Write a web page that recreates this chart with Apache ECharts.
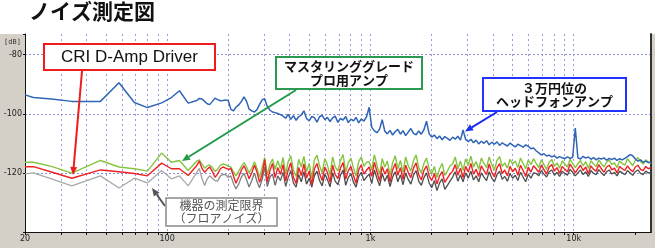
<!DOCTYPE html>
<html><head><meta charset="utf-8">
<script src="https://cdn.jsdelivr.net/npm/echarts@6/dist/echarts.min.js"></script>
<style>html,body{margin:0;padding:0;background:#fff}#c{width:655px;height:248px}</style>
</head><body><div id="c"></div>
<script>
// Frequencies (Hz)
const freq = [
20,22,27,34,47,58,69,80,94,105,115,127,
140,144,148.5,153,157.5,162,167,172,177,183,
188,194,200,206,212,218,225,232,239,246,
253,261,269,277,285,294,302,311,321,330,
340,350,361,372,383,394,406,418,431,444,
457,471,485,500,515,530,546,562,579,597,
614,633,652,671,692,712,734,756,778,802,
826,850,876,902,929,957,986,1015,1046,1077,
1110,1143,1177,1212,1249,1286,1325,1364,1405,1447,
1491,1535,1581,1629,1678,1728,1780,1833,1888,1945,
2003,2063,2125,2189,2255,2322,2392,2464,2538,2614,
2692,2773,2856,2942,3030,3121,3215,3311,3410,3513,
3618,3727,3838,3954,4072,4194,4320,4450,4583,4721,
4862,5008,5159,5313,5473,5637,5806,5980,6159,6344,
6535,6731,6933,7141,7355,7575,7803,8037,8278,8526,
8782,9046,9317,9597,9884,10181,10486,10801,11125,11459,
11802,12157,12521,12897,13284,13682,14093,14515,14951,15399,
15861,16337,16827,17332,17852,18388,18939,19508,20093,20696,
21317,21956,22615,23293,24000
];

// 3万円位のヘッドフォンアンプ (blue)
const headphoneAmp = [
-93.6,-94.5,-95.0,-95.8,-95.8,-89.5,-96.2,-97.9,-96.3,-94.5,-92.2,-96.4,
-95.5,-94.8,-95.0,-95.8,-96.6,-96.9,-95.8,-94.7,-95.2,-95.6,-95.5,-95.3,-95.6,-98.5,-99.0,-97.8,-97.0,-95.8,-94.3,-95.8,-98.4,-99.0,-99.4,-98.6,-96.8,-95.2,-94.9,-97.5,-98.8,-99.4,-99.6,-99.9,
-100.3,-100.8,-101.5,-100.2,-101.9,-100.6,-102.2,-101.0,-100.4,-99.0,-101.6,-102.4,-100.9,-101.3,-102.8,-101.0,-100.5,-102.0,-101.2,-102.6,-101.4,-100.8,-102.9,-101.6,-102.1,-100.9,-103.0,-101.8,-102.4,-101.2,-103.1,-101.7,-102.5,-101.0,
-97.8,-104.5,-105.8,-106.4,-105.2,-102.0,-105.9,-106.8,-105.6,-107.2,-106.0,-105.3,-106.9,-105.7,-107.4,-106.2,-105.0,-106.6,-107.1,-105.8,-106.9,-105.4,-102.5,-106.8,
-107.9,-107.2,-108.4,-107.5,-108.8,-107.7,-108.3,-109.0,
-107.9,-108.6,-107.6,-108.9,-105.5,-108.7,-109.4,-108.6,-109.8,-108.9,-110.2,-109.3,-110.0,-109.1,-110.5,-109.6,-110.3,-109.5,-110.7,-109.8,-110.4,-110.9,-109.9,-110.6,-111.2,-110.3,-110.8,-111.3,-110.5,-111.0,-111.8,-111.6,
-112.5,-113.2,-113.9,-113.5,-114.3,-114.0,-114.6,-114.2,-115.0,-114.5,-114.9,-115.2,-114.6,-115.1,-114.7,-104.8,-114.9,-115.3,-114.4,-115.0,-114.6,-115.4,-114.8,-115.6,-115.0,-115.3,-114.9,-115.7,-115.1,-115.5,-115.0,-115.8,-115.2,-115.6,-115.1,-114.5,-113.8,-114.2,-115.3,-116.0,-115.6,-116.4,-116.0,-116.5,-116.3
];

// マスタリンググレード プロ用アンプ (green)
const masteringAmp = [
-116.4,-116.4,-117.8,-120.1,-115.8,-118.0,-118.6,-119.4,-113.3,-116.4,-115.8,-119.2,
-116.0,-115.6,-117.0,-118.4,-117.6,-117.3,-118.2,-119.5,-118.8,-117.4,-117.0,-117.2,-117.8,-118.0,-119.6,-121.0,-119.4,-117.8,-116.5,-118.0,-120.0,-118.4,-116.2,-118.6,-121.5,-118.0,-114.8,-120.6,-117.0,-115.3,-118.8,-115.9,
-118.6,-114.8,-120.4,-116.2,-114.2,-119.0,-121.2,-115.4,-118.0,-114.4,-119.6,-116.8,-121.8,-115.6,-114.0,-117.6,-120.0,-115.2,-117.2,-120.8,-114.6,-118.0,-119.4,-115.8,-113.8,-119.7,-116.6,-115.0,-118.4,-121.0,-116.2,-114.6,-117.8,-116.4,
-116.2,-119.0,-113.8,-117.4,-120.6,-115.2,-118.0,-116.0,-120.8,-116.6,-114.2,-118.6,-115.8,-119.8,-114.6,-117.6,-119.4,-115.8,-113.9,-118.2,-120.0,-116.8,-115.0,-118.6,
-120.4,-117.8,-121.6,-118.6,-116.8,-120.8,-119.4,-117.6,
-117.0,-114.6,-118.6,-116.0,-119.2,-115.2,-117.4,-114.3,-118.0,-116.2,-118.8,-115.0,-116.8,-118.2,-114.6,-117.2,-119.0,-115.8,-114.5,-117.8,-116.6,-118.4,-115.4,-117.0,-116.0,-118.2,-115.0,-116.8,-118.6,-115.6,-117.2,-115.2,
-116.8,-118.2,-115.6,-117.2,-118.8,-116.4,-115.5,-117.8,-116.6,-118.4,-116.0,-117.0,-118.0,-115.4,-116.8,-118.2,-116.9,-115.8,-117.6,-116.2,-118.4,-115.9,-117.0,-117.8,-115.6,-116.9,-118.0,-116.4,-115.6,-117.2,-116.6,-118.2,-116.0,-116.8,-117.4,-115.2,-116.4,-117.6,-115.8,-114.8,-116.2,-117.0,-115.6,-116.4,-116.8
];

// CRI D-Amp Driver (red)
const criDAmp = [
-117.9,-117.9,-119.7,-121.8,-119.0,-119.6,-120.2,-121.0,-116.7,-118.6,-118.6,-120.9,
-117.5,-116.0,-118.5,-119.8,-118.8,-118.0,-119.5,-121.5,-120.4,-118.6,-118.0,-118.4,-118.8,-118.5,-121.0,-123.5,-121.4,-119.0,-117.6,-119.5,-122.0,-120.0,-117.4,-119.8,-123.2,-120.4,-115.4,-123.0,-119.0,-116.8,-121.6,-118.2,
-120.5,-117.2,-122.8,-119.0,-116.6,-121.4,-123.6,-118.2,-120.9,-117.0,-121.8,-119.4,-124.0,-118.6,-116.8,-120.2,-122.6,-118.0,-119.8,-123.2,-117.4,-120.6,-121.9,-118.4,-116.5,-122.1,-119.3,-117.8,-121.0,-123.5,-118.9,-117.3,-120.4,-119.1,
-118.0,-121.2,-116.4,-119.6,-122.8,-117.8,-120.4,-118.6,-123.0,-119.0,-116.8,-120.8,-118.2,-122.2,-117.4,-119.9,-121.6,-118.4,-116.6,-120.6,-122.4,-119.2,-117.6,-121.0,
-122.6,-120.2,-123.8,-121.0,-119.6,-123.2,-121.8,-120.4,
-119.4,-117.2,-120.8,-118.4,-121.6,-117.8,-119.8,-116.8,-120.4,-118.8,-121.2,-117.6,-119.2,-120.6,-117.0,-119.8,-121.4,-118.2,-116.9,-120.2,-119.0,-121.0,-117.8,-119.6,-118.4,-120.8,-117.4,-119.2,-121.2,-118.0,-119.8,-117.6,
-118.6,-119.8,-117.4,-118.9,-120.4,-118.0,-117.2,-119.4,-118.2,-120.2,-117.8,-118.8,-119.6,-117.0,-118.4,-120.0,-118.6,-117.4,-119.2,-118.0,-120.3,-117.6,-118.8,-119.4,-117.2,-118.6,-119.8,-118.0,-117.4,-119.0,-118.4,-120.0,-117.8,-118.6,-119.2,-117.6,-118.8,-119.6,-118.0,-117.4,-118.8,-119.2,-117.8,-118.6,-118.2
];

// 機器の測定限界（フロアノイズ） (grey)
const floorNoise = [
-120.3,-120.0,-122.0,-124.4,-121.0,-125.1,-121.8,-123.4,-119.2,-122.0,-121.0,-124.4,
-119.8,-118.5,-122.0,-124.3,-122.0,-121.0,-121.8,-122.6,-122.8,-121.0,-120.5,-120.6,-121.5,-121.0,-123.6,-125.4,-123.8,-121.4,-120.2,-122.3,-124.8,-122.6,-120.0,-123.0,-125.0,-122.0,-118.0,-124.6,-121.3,-120.4,-124.2,-121.0,
-122.6,-119.8,-124.6,-121.6,-119.2,-123.4,-124.8,-120.6,-123.0,-119.6,-123.8,-121.8,-124.8,-121.0,-119.4,-122.6,-124.4,-120.4,-122.2,-124.7,-120.0,-122.8,-124.0,-120.8,-119.0,-124.2,-121.6,-120.2,-123.2,-124.8,-121.2,-119.8,-122.6,-121.4,
-120.4,-123.6,-119.0,-121.8,-124.4,-120.2,-122.8,-120.8,-124.6,-121.4,-119.6,-123.0,-120.6,-124.0,-120.0,-122.2,-123.8,-120.8,-119.2,-122.8,-124.2,-121.6,-120.0,-123.4,
-125.0,-122.6,-126.0,-123.4,-122.0,-125.6,-124.2,-122.8,
-121.4,-119.6,-122.8,-120.6,-123.0,-120.0,-121.8,-119.4,-122.4,-121.0,-123.0,-120.0,-121.4,-122.6,-119.6,-121.8,-123.0,-120.6,-119.4,-122.2,-121.2,-122.8,-120.2,-121.8,-120.8,-122.6,-119.8,-121.4,-123.0,-120.4,-121.8,-120.0,
-120.2,-121.0,-119.2,-120.4,-121.4,-119.6,-119.0,-120.8,-119.8,-121.2,-119.4,-120.2,-120.8,-118.8,-119.8,-121.0,-120.0,-119.0,-120.6,-119.6,-121.2,-119.2,-120.2,-120.6,-118.9,-120.0,-120.9,-119.6,-119.0,-120.4,-119.8,-121.0,-119.4,-120.0,-120.6,-119.2,-120.0,-120.8,-119.6,-119.0,-120.2,-120.6,-119.4,-120.0,-119.8
];

// Axis ticks / labels
const xTickFreqs = [20,30,40,50,60,70,80,90,100,200,300,400,500,600,700,800,900,1000,2000,3000,4000,5000,6000,7000,8000,9000,10000,20000];
const xLabelFreqs = [20,100,1000,10000];
const xLabelTexts = ['20','100','1k','10k'];
const yLabelValues = [-120,-100,-80];

const chart = echarts.init(document.getElementById('c'), null, {renderer:'canvas'});

function arrow(x1,y1,x2,y2,color,w){
  const a = Math.atan2(y2-y1,x2-x1), L=8, W=3.5;
  const bx = x2-L*Math.cos(a), by = y2-L*Math.sin(a);
  const px = -Math.sin(a), py = Math.cos(a);
  return [
    {type:'line', z:100, shape:{x1:x1,y1:y1,x2:bx,y2:by}, style:{stroke:color,lineWidth:w}},
    {type:'polygon', z:100, shape:{points:[[x2,y2],[bx+px*W,by+py*W],[bx-px*W,by-py*W]]}, style:{fill:color}}
  ];
}
function box(x,y,w,h,stroke,lw,text,font,fill,lh){
  return [
    {type:'rect', z:100, shape:{x:x,y:y,width:w,height:h}, style:{fill:'#fff',stroke:stroke,lineWidth:lw}},
    {type:'text', z:101, style:{x:x+w/2,y:y+h/2,text:text,font:font,fill:fill,align:'center',verticalAlign:'middle',lineHeight:lh}}
  ];
}
const mk = vals => freq.map((f,i)=>[f, vals[i]]);
const cjk = '"Noto Sans CJK JP"';

const graphics = [].concat(
  [{type:'rect', z:-10, shape:{x:0,y:0,width:655,height:34}, style:{fill:'#fff'}}],
  [{type:'text', z:101, style:{x:29,y:1,text:'ノイズ測定図',font:'bold 21px '+cjk,fill:'#111',align:'left',verticalAlign:'top'}}],
  [{type:'text', z:101, style:{x:4,y:42,text:'[dB]',font:'7px "DejaVu Sans Mono"',fill:'#333',align:'left',verticalAlign:'middle'}}],
  arrow(82,71,73,175,'#ee1c1c',2),
  box(44,44,171,26,'#ee1c1c',2,'CRI D-Amp Driver','17px "Liberation Sans"','#111',18),
  arrow(296,90,182,161,'#1f9a48',2),
  box(276,57,146,32,'#2a9a50',2,'マスタリンググレード\nプロ用アンプ','bold 13px '+cjk,'#111',13.5),
  arrow(497,112,465,131.5,'#1a2cf0',2),
  box(483,78,143,33,'#2233ff',2,'３万円位の\nヘッドフォンアンプ','bold 13px '+cjk,'#111',13.5),
  arrow(165,206,152,188,'#555',2),
  box(166,198,111,28,'#8a8a8a',1.5,'機器の測定限界\n（フロアノイズ）','12px '+cjk,'#555',13)
);

const greyGrad = new echarts.graphic.LinearGradient(0,0,1,0,[
  {offset:0,color:'#a8a8a8'},{offset:0.27,color:'#a8a8a8'},{offset:0.45,color:'#4a4a4a'},{offset:1,color:'#505050'}
]);

chart.setOption({
  animation:false,
  backgroundColor:'#d4d0c8',
  grid:{left:25,right:4,top:34,bottom:16,show:true,backgroundColor:'#fff',borderWidth:0},
  xAxis:{
    type:'log', logBase:10, min:20, max:24000,
    axisLine:{show:true,onZero:false,lineStyle:{color:'#111',width:1}},
    axisTick:{show:true,customValues:xTickFreqs,length:3,lineStyle:{color:'#111'}},
    axisLabel:{customValues:xLabelFreqs,formatter:v=>{const k=xLabelFreqs.indexOf(Math.round(v));return k>=0?xLabelTexts[k]:'';},fontSize:8,color:'#222',margin:3,fontFamily:'DejaVu Sans'},
    splitLine:{show:true,showMinLine:false,showMaxLine:false,lineStyle:{color:'#9a9ade',type:[2,3],width:1}},
    minorTick:{show:false},minorSplitLine:{show:false}
  },
  yAxis:[{
    type:'value', min:-140, max:-73, interval:20,
    axisLine:{show:true,lineStyle:{color:'#111'}},
    axisTick:{show:true,length:2,lineStyle:{color:'#111'}},
    axisLabel:{formatter:v=>yLabelValues.indexOf(v)>=0?String(v):'',fontSize:8,color:'#222',margin:3,fontFamily:'DejaVu Sans'},
    splitLine:{show:true,showMinLine:false,showMaxLine:false,lineStyle:{color:'#8f8fd6',type:[2,2],width:1}}
  },{
    type:'value', position:'right', min:-140, max:-73,
    axisLine:{show:true,lineStyle:{color:'#333',width:2}},
    axisTick:{show:false},axisLabel:{show:false},splitLine:{show:false}
  }],
  series:[
    {name:'機器の測定限界',type:'line',data:mk(floorNoise),symbol:'none',lineStyle:{width:1.3,color:greyGrad},z:2},
    {name:'マスタリンググレード',type:'line',data:mk(masteringAmp),symbol:'none',lineStyle:{width:1.4,color:'#86c440'},z:3},
    {name:'CRI D-Amp Driver',type:'line',data:mk(criDAmp),symbol:'none',lineStyle:{width:1.4,color:'#ee2222'},z:4},
    {name:'ヘッドフォンアンプ',type:'line',data:mk(headphoneAmp),symbol:'none',lineStyle:{width:1.5,color:'#2f64b6'},z:5}
  ],
  graphic:graphics
});
</script></body></html>
